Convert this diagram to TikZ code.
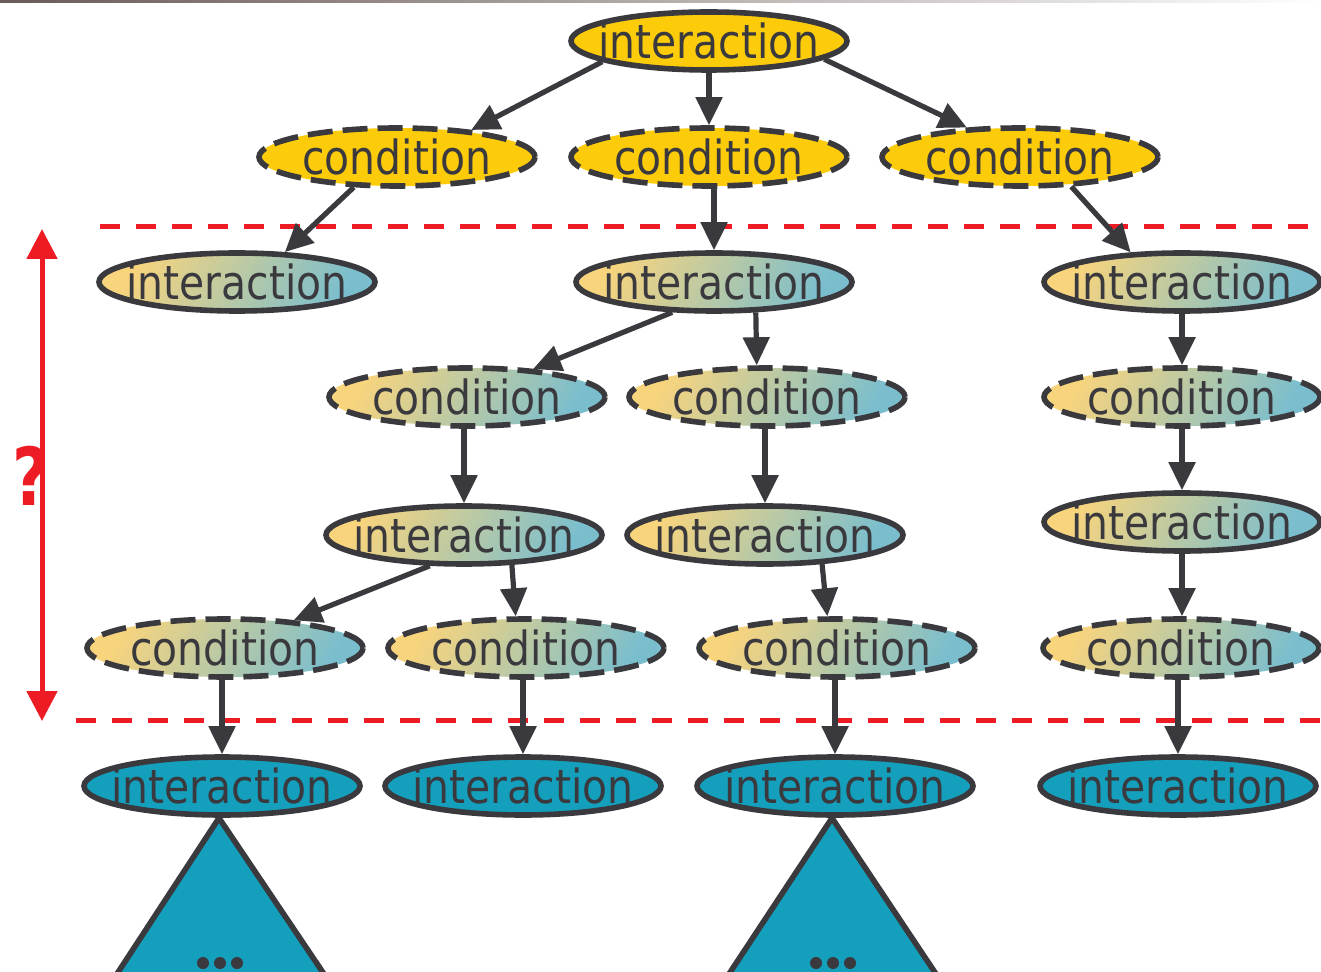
\documentclass[tikz,border=0pt]{standalone}
\usepackage{fontspec}
\setmainfont{DejaVu Sans}[FakeStretch=0.87]
\newfontfamily\qfont{DejaVu Sans}[FakeStretch=0.8]
\usetikzlibrary{arrows.meta,shapes.geometric,calc}
\definecolor{ink}{RGB}{58,57,62}
\definecolor{gold}{RGB}{252,203,10}
\definecolor{tealc}{RGB}{20,159,188}
\definecolor{redc}{RGB}{237,28,36}
\definecolor{gradA}{RGB}{248,212,125}
\definecolor{gradM}{RGB}{218,208,168}
\definecolor{gradB}{RGB}{122,190,206}
\definecolor{barL}{RGB}{105,90,88}
\begin{document}
\begin{tikzpicture}[x=0.5pt,y=-0.5pt,
  ell/.style={ellipse,draw=ink,line width=2.8pt,minimum width=138pt,minimum height=29pt,inner sep=0pt},
  txt/.style={font=\fontsize{23.5pt}{26pt}\selectfont,text=ink,inner sep=0pt},
  inter/.style={ell,label={[txt]center:interaction}},
  cond/.style={ell,dash pattern=on 12.5pt off 5pt,label={[txt]center:condition}},
  yel/.style={fill=gold},
  grad/.style={top color=gradA,middle color=gradM,bottom color=gradB,shading angle=60},
  leaf/.style={fill=tealc},
  arr/.style={draw=ink,line width=2.6pt,-{Triangle[length=14pt,width=13pt]}},
  sep/.style={draw=redc,line width=2.5pt,dash pattern=on 10pt off 8pt},
  tri/.style={draw=ink,line width=2.8pt,fill=tealc,line join=miter},
  dot/.style={fill=ink,draw=none}
]
\useasboundingbox (0,0) rectangle (1321,972);
\clip (0,0) rectangle (1321,972);

% thin bar along the top edge
\fill[left color=barL,right color=white] (0,0) rectangle (1321,3);

% level markers
\draw[sep] (100,227) -- (1321,227);
\draw[sep] (76,720) -- (1321,720);
\coordinate (rtop) at (42,229);
\coordinate (rbot) at (42,721);
\draw[draw=redc,line width=2.5pt,{Triangle[length=15pt,width=15pt]}-{Triangle[length=15pt,width=15pt]}] (rtop) -- (rbot);
\node[text=redc,font=\qfont\bfseries\fontsize{40pt}{42pt}\selectfont,inner sep=0pt] (q) at (31,476) {?};

% root
\node[inter,yel] (t) at (709,41) {};
% first conditions
\node[cond,yel] (c1) at (397,157) {};
\node[cond,yel] (c2) at (709,157) {};
\node[cond,yel] (c3) at (1020,157) {};
% unknown part of the tree
\node[inter,grad] (i1) at (237,282) {};
\node[inter,grad] (i2) at (714,282) {};
\node[inter,grad] (i3) at (1182,282) {};
\node[cond,grad] (c4) at (467,397) {};
\node[cond,grad] (c5) at (767,397) {};
\node[cond,grad] (c6) at (1182,397) {};
\node[inter,grad] (i4) at (464,535) {};
\node[inter,grad] (i5) at (765,535) {};
\node[inter,grad] (i6) at (1182,522) {};
\node[cond,grad] (c7) at (225,648) {};
\node[cond,grad] (c8) at (526,648) {};
\node[cond,grad] (c9) at (837,648) {};
\node[cond,grad] (c10) at (1181,648) {};
% leaves
\node[inter,leaf] (j1) at (222,786) {};
\node[inter,leaf] (j2) at (523,786) {};
\node[inter,leaf] (j3) at (835,786) {};
\node[inter,leaf] (j4) at (1178,786) {};

% subtrees below the leaves
\draw[tri] (219,818) -- (113,980) -- (328,980) -- cycle;
\draw[tri] (832,818) -- (725,980) -- (940,980) -- cycle;
\foreach \x in {203,220,237,816,833,850} \fill[dot] (\x,963) circle (6);

% connectors
\draw[arr] (t.191) -- (c1.20);
\draw[arr] (t.south) -- (c2.north);
\draw[arr] (t.351) -- (c3.151);
\draw[arr] (c1.215) -- (i1.32);
\draw[arr] (i2.north |- c2.south) -- (i2.north);
\draw[arr] (c3.330) -- (i3.150);
\draw[arr] (i2.216) -- (c4.23);
\draw[arr] (i2.324) -- (c5.108);
\draw[arr] (i3.south) -- (c6.north);
\draw[arr] (i4.north |- c4.south) -- (i4.north);
\draw[arr] (i5.north |- c5.south) -- (i5.north);
\draw[arr] (c6.south) -- (i6.north);
\draw[arr] (i4.222) -- (c7.22);
\draw[arr] (i4.328) -- (c8.108);
\draw[arr] (i5.333) -- (c9.107);
\draw[arr] (i6.south) -- (i6.south |- c10.north);
\draw[arr] (c7.south -| j1.north) -- (j1.north);
\draw[arr] (c8.south -| j2.north) -- (j2.north);
\draw[arr] (c9.south -| j3.north) -- (j3.north);
\draw[arr] (c10.south -| j4.north) -- (j4.north);
\end{tikzpicture}
\end{document}
